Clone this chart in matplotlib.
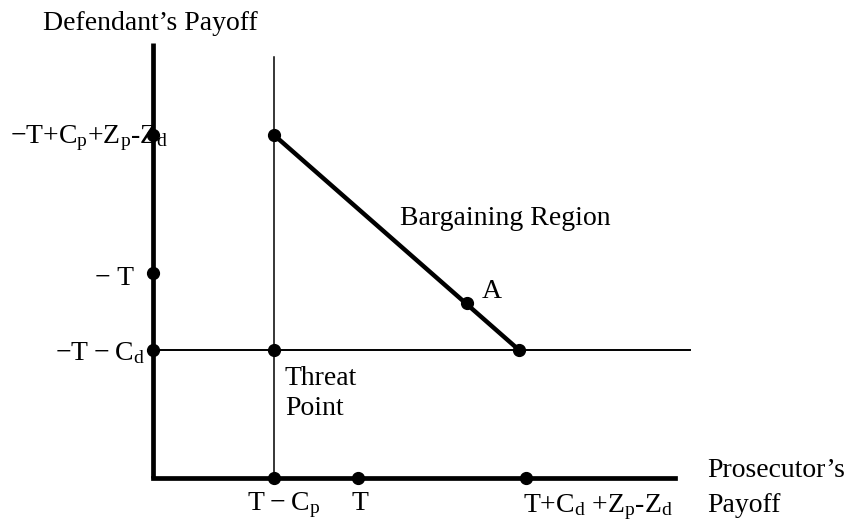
import matplotlib.pyplot as plt

plt.rcParams['font.family'] = ['Liberation Serif', 'DejaVu Serif']
plt.rcParams['mathtext.fontset'] = 'custom'
plt.rcParams['mathtext.rm'] = 'Liberation Serif'
plt.rcParams['mathtext.it'] = 'Liberation Serif'

# payoff positions (arbitrary units, origin at the axes corner)
x_marks = [121, 205, 373]          # T-Cp, T, T+Cd+Zp-Zd
y_marks = [343, 205, 128]          # -T+Cp+Zp-Zd, -T, -T-Cd
threat = (121, 128)
bargain_x = [121, 366]
bargain_y = [343, 128]
point_a = (314, 175)
axis_x_end = 522
axis_y_end = 435
thin_v_end = 421
thin_h_end = 537

fig = plt.figure(figsize=(8.54, 5.23), dpi=100)
ax = fig.add_axes([0, 0, 1, 1])
ax.set_xlim(-153, 701)
ax.set_ylim(-45, 478)
ax.axis('off')

# axes
ax.plot([0, 0], [0, axis_y_end], color='black', lw=3.4, solid_capstyle='butt')
ax.plot([0, axis_x_end], [0, 0], color='black', lw=3.4, solid_capstyle='projecting')

# threat point lines
ax.plot([threat[0], threat[0]], [0, thin_v_end], color='black', lw=1.1)
ax.plot([0, thin_h_end], [threat[1], threat[1]], color='black', lw=1.4)

# bargaining frontier
ax.plot(bargain_x, bargain_y, color='black', lw=3.2)

ms = 8.5
ax.plot(bargain_x, bargain_y, 'o', color='black', ms=ms)
ax.plot(*threat, 'o', color='black', ms=ms)
ax.plot(*point_a, 'o', color='black', ms=ms)
ax.plot(x_marks, [0] * len(x_marks), 'o', color='black', ms=ms)
ax.plot([0] * len(y_marks), y_marks, 'o', color='black', ms=ms)

fs = 20
ts = '\u2009'
# y labels
ax.text(-143, 335, '−T+C$_\\mathrm{p}$+Z$_\\mathrm{p}$-Z$_\\mathrm{d}$',
        ha='left', va='baseline', fontsize=fs)
ax.text(-58, 193, '− T', ha='left', va='baseline', fontsize=fs)
ax.text(-98, 118, '−T' + ts + '−' + ts + 'C$_\\mathrm{d}$',
        ha='left', va='baseline', fontsize=fs)

# x labels
ax.text(94, -32, 'T' + ts + '−' + ts + 'C$_\\mathrm{p}$',
        ha='left', va='baseline', fontsize=fs)
ax.text(207, -32, 'T', ha='center', va='baseline', fontsize=fs)
ax.text(370, -34, 'T+C$_\\mathrm{d}$ +Z$_\\mathrm{p}$-Z$_\\mathrm{d}$',
        ha='left', va='baseline', fontsize=fs)

ax.text(554, 1, "Prosecutor’s", ha='left', va='baseline', fontsize=fs)
ax.text(554, -34, 'Payoff', ha='left', va='baseline', fontsize=fs)
ax.text(-110, 448, "Defendant’s Payoff", ha='left', va='baseline', fontsize=fs)

ax.text(247, 253, 'Bargaining Region', ha='left', va='baseline', fontsize=fs)
ax.text(329, 180, 'A', ha='left', va='baseline', fontsize=fs)
ax.text(132, 93, 'Threat', ha='left', va='baseline', fontsize=fs)
ax.text(132, 63, 'Point', ha='left', va='baseline', fontsize=fs)

fig.savefig('out.png', dpi=100)
